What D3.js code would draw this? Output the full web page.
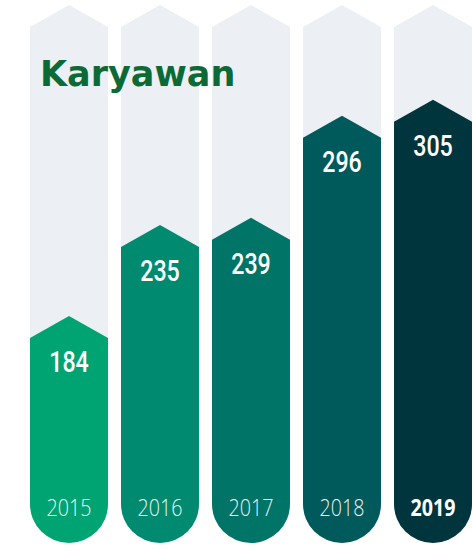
<!DOCTYPE html>
<html>
<head>
<meta charset="utf-8">
<script src="https://cdn.jsdelivr.net/npm/d3@7"></script>
<style>
  body { margin: 0; background: #fff; }
</style>
</head>
<body>
<div id="chart"></div>
<script>
// data
var years = ["2015", "2016", "2017", "2018", "2019"];
var values = [184, 235, 239, 296, 305];
var colors = ["#00a473", "#008b70", "#007467", "#005a5b", "#01353d"];
var title = "Karyawan";

var svgWidth = 474;
var svgHeight = 551;

var svg = d3.select("#chart")
    .append("svg")
    .attr("width", svgWidth)
    .attr("height", svgHeight);

var data = years.map(function (y, i) {
    return { year: y, value: values[i], color: colors[i] };
});

// scales
var x = d3.scaleBand()
    .domain(years)
    .range([30, 472])
    .paddingInner(0.143)
    .paddingOuter(0);

var y = d3.scaleLinear()
    .domain([0, 358])
    .range([667, 27]);

var bottom = 543;
var tip = 22;

// arrow-topped column with rounded bottom
function column(x0, w, top) {
    var r = w / 2;
    return "M" + x0 + "," + top +
        "L" + (x0 + r) + "," + (top - tip) +
        "L" + (x0 + w) + "," + top +
        "L" + (x0 + w) + "," + (bottom - r) +
        "A" + r + "," + r + " 0 0 1 " + x0 + "," + (bottom - r) + "Z";
}

// background columns
svg.append("g")
    .selectAll("path")
    .data(data)
    .enter()
    .append("path")
    .attr("d", d => column(x(d.year), x.bandwidth(), y(y.domain()[1])))
    .attr("fill", "#eceff3");

// title
svg.append("text")
    .attr("x", 40)
    .attr("y", 86)
    .attr("font-family", "DejaVu Sans")
    .attr("font-weight", "bold")
    .attr("font-size", "35px")
    .attr("fill", "#0b6a35")
    .text(title);

// value columns
svg.append("g")
    .selectAll("path")
    .data(data)
    .enter()
    .append("path")
    .attr("d", d => column(x(d.year), x.bandwidth(), y(d.value)))
    .attr("fill", d => d.color);

// value labels
svg.append("g")
    .selectAll("text")
    .data(data)
    .enter()
    .append("text")
    .attr("transform", d => `translate(${x(d.year) + x.bandwidth() / 2}, ${y(d.value) + 34}) scale(0.8, 1)`)
    .attr("text-anchor", "middle")
    .attr("font-family", "Roboto")
    .attr("font-weight", 500)
    .attr("font-size", "29px")
    .attr("fill", "#fff")
    .text(d => d.value);

// year labels
svg.append("g")
    .selectAll("text")
    .data(data)
    .enter()
    .append("text")
    .attr("transform", d => `translate(${x(d.year) + x.bandwidth() / 2}, 516) scale(0.82, 1)`)
    .attr("text-anchor", "middle")
    .attr("font-family", "Open Sans")
    .attr("font-weight", (d, i) => i === years.length - 1 ? 700 : 300)
    .attr("font-size", "24px")
    .attr("fill", "#fff")
    .attr("opacity", (d, i) => i === years.length - 1 ? 1 : 0.92)
    .text(d => d.year);
</script>
</body>
</html>
